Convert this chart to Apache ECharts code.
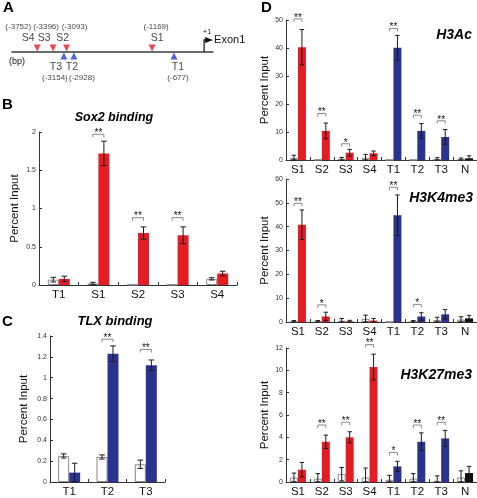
<!DOCTYPE html>
<html><head><meta charset="utf-8">
<script src="https://cdn.jsdelivr.net/npm/echarts/dist/echarts.min.js"></script>
<style>html,body{margin:0;padding:0;background:#fff;}#c{width:477px;height:498px;}</style>
</head><body><div id="c"></div>
<script>
// ---------- DATA ----------
// Panel A: binding sites (bp upstream of exon 1)
const sox2SiteNames = ['S4', 'S3', 'S2', 'S1'];
const sox2SitePos   = [-3752, -3396, -3093, -1169];
const tlxSiteNames  = ['T3', 'T2', 'T1'];
const tlxSitePos    = [-3154, -2928, -677];
const exonStart     = [0];

// Panel B: Sox2 binding
const soxCats    = ['T1', 'S1', 'S2', 'S3', 'S4'];
const soxCtrl    = [0.07, 0.02, 0.005, 0.005, 0.08];
const soxCtrlErr = [0.03, 0.015, 0, 0, 0.015];
const soxVal     = [0.08, 1.72, 0.68, 0.65, 0.15];
const soxValErr  = [0.035, 0.16, 0.08, 0.11, 0.03];
const soxSig     = ['', '**', '**', '**', ''];
const soxSigY    = [null, 1.97, 0.88, 0.88, null];
const soxTicks   = [0, 0.5, 1, 1.5, 2];

// Panel C: TLX binding
const tlxCats    = ['T1', 'T2', 'T3'];
const tlxCtrl    = [0.25, 0.24, 0.17];
const tlxCtrlErr = [0.02, 0.02, 0.04];
const tlxVal     = [0.09, 1.23, 1.12];
const tlxValErr  = [0.09, 0.075, 0.05];
const tlxSig     = ['', '**', '**'];
const tlxSigY    = [null, 1.37, 1.27];
const tlxTicks   = [0, 0.2, 0.4, 0.6, 0.8, 1, 1.2, 1.4];

// Panel D: histone marks
const dCats = ['S1', 'S2', 'S3', 'S4', 'T1', 'T2', 'T3', 'N'];

const h3acCtrl    = [0.7, 0.1, 0.4, 0.8, 0.05, 0.1, 0.3, 0.2];
const h3acCtrlErr = [1.0, 0, 0.5, 1.2, 0, 0, 0.5, 0.5];
const h3acVal     = [40.3, 10.4, 2.6, 2.4, 40.1, 10.4, 8.2, 0.6];
const h3acValErr  = [6.3, 2.8, 1.2, 0.8, 4.4, 2.6, 2.7, 0.9];
const h3acSig     = ['**', '**', '*', '', '**', '**', '**', ''];
const h3acSigY    = [50.4, 16.6, 5.8, null, 47, 16, 14, null];
const h3acTicks   = [0, 10, 20, 30, 40, 50];

const k4Ctrl    = [0.3, 0.3, 0.5, 1.3, 0.05, 0.3, 0.8, 1.0];
const k4CtrlErr = [0.3, 0.3, 1.0, 1.6, 0, 0.3, 1.2, 1.2];
const k4Val     = [40.8, 2.3, 0.3, 0.6, 44.8, 2.3, 3.2, 1.5];
const k4ValErr  = [6.2, 1.8, 0.4, 0.9, 8.5, 1.6, 2.0, 1.3];
const k4Sig     = ['**', '*', '', '', '**', '*', '', ''];
const k4SigY    = [49.8, 7.2, null, null, 56.5, 7.4, null, null];
const k4Ticks   = [0, 10, 20, 30, 40, 50, 60];

const k27Ctrl    = [0.4, 0.3, 0.7, 0.4, 0.2, 0.3, 0.1, 0.4];
const k27CtrlErr = [0.4, 0.45, 0.6, 0.85, 0.4, 0.45, 0.45, 0.6];
const k27Val     = [1.1, 3.6, 4.0, 10.3, 1.4, 3.6, 3.9, 0.8];
const k27ValErr  = [0.65, 0.6, 0.5, 1.15, 0.45, 0.8, 0.72, 0.6];
const k27Sig     = ['', '**', '**', '**', '*', '**', '**', ''];
const k27SigY    = [null, 5.1, 5.35, 12.3, 2.65, 5.1, 5.35, null];
const k27Ticks   = [0, 2, 4, 6, 8, 10, 12];

// ---------- STYLE ----------
const FONT = "'Liberation Sans', Arial, sans-serif";
const RED = '#e41d24', BLUE = '#2b3391', BLACK = '#0d0d0d';
const AXIS = '#333';
// label nudges in px for schematic labels: [nameDx, bpDx]
const sNudge = { S4: [-9, -19], S3: [-9, -7], S2: [-4, 8], S1: [5, 4] };
const tNudge = { T3: [-8, -9], T2: [-2, 8], T1: [4, 4] };

const panels = [
  { cats: soxCats, ctrl: soxCtrl, ctrlErr: soxCtrlErr, val: soxVal, valErr: soxValErr, sig: soxSig, sigY: soxSigY, ticks: soxTicks,
    grid: { left: 39, top: 132, width: 198, height: 153 }, bw: 11, color: () => RED, nameGap: 18 },
  { cats: tlxCats, ctrl: tlxCtrl, ctrlErr: tlxCtrlErr, val: tlxVal, valErr: tlxValErr, sig: tlxSig, sigY: tlxSigY, ticks: tlxTicks,
    grid: { left: 50, top: 336, width: 115, height: 148 }, bw: 11, color: () => BLUE, nameGap: 20 },
  { cats: dCats, ctrl: h3acCtrl, ctrlErr: h3acCtrlErr, val: h3acVal, valErr: h3acValErr, sig: h3acSig, sigY: h3acSigY, ticks: h3acTicks,
    grid: { left: 286, top: 20, width: 194, height: 140 }, bw: 8, color: dColor, nameGap: 13 },
  { cats: dCats, ctrl: k4Ctrl, ctrlErr: k4CtrlErr, val: k4Val, valErr: k4ValErr, sig: k4Sig, sigY: k4SigY, ticks: k4Ticks,
    grid: { left: 286, top: 179, width: 194, height: 143 }, bw: 8, color: dColor, nameGap: 13 },
  { cats: dCats, ctrl: k27Ctrl, ctrlErr: k27CtrlErr, val: k27Val, valErr: k27ValErr, sig: k27Sig, sigY: k27SigY, ticks: k27Ticks,
    grid: { left: 286, top: 348, width: 194, height: 136 }, bw: 8, color: dColor, nameGap: 13 }
];
function dColor(cat) { return cat[0] === 'S' ? RED : (cat[0] === 'T' ? BLUE : BLACK); }

// ---------- BUILD ----------
const grids = [], xAxes = [], yAxes = [], series = [];

// Panel A (index 0)
grids.push({ left: 12, top: 42, width: 201, height: 20 });
xAxes.push({ type: 'value', gridIndex: 0, min: -4320, max: 200, axisLine: { onZero: true, lineStyle: { color: '#3a3a3a', width: 1.5 } },
  axisTick: { show: false }, axisLabel: { show: false }, splitLine: { show: false } });
yAxes.push({ type: 'value', gridIndex: 0, min: -1, max: 1, show: false });
series.push({ type: 'scatter', xAxisIndex: 0, yAxisIndex: 0, symbol: 'triangle', symbolRotate: 180, symbolSize: [7, 7],
  symbolOffset: [0, -4], itemStyle: { color: RED }, data: sox2SitePos.map(p => [p, 0]), z: 5 });
series.push({ type: 'scatter', xAxisIndex: 0, yAxisIndex: 0, symbol: 'triangle', symbolSize: [7, 7],
  symbolOffset: [0, 4], itemStyle: { color: '#2140d8' }, data: tlxSitePos.map(p => [p, 0]), z: 5 });
function labelSeries(names, pos, nudge, which, dy, size) {
  return { type: 'scatter', xAxisIndex: 0, yAxisIndex: 0, symbolSize: 1, itemStyle: { color: 'rgba(0,0,0,0)' }, silent: true,
    data: names.map((n, i) => ({ value: [pos[i], 0], name: n,
      label: { offset: [nudge[n][which], dy] } })),
    label: { show: true, position: 'inside', fontFamily: FONT, fontSize: size, color: '#111',
      formatter: p => which === 0 ? p.name : '(' + p.value[0] + ')' } };
}
series.push(labelSeries(sox2SiteNames, sox2SitePos, sNudge, 0, -14, 10.5));
series.push(labelSeries(sox2SiteNames, sox2SitePos, sNudge, 1, -25, 8));
series.push(labelSeries(tlxSiteNames, tlxSitePos, tNudge, 0, 15, 10.5));
series.push(labelSeries(tlxSiteNames, tlxSitePos, tNudge, 1, 26, 8));
series.push({ type: 'custom', xAxisIndex: 0, yAxisIndex: 0, data: exonStart.map(p => [p, 0]), z: 6,
  renderItem: (params, api) => {
    const c = api.coord([api.value(0), 0]);
    const x = c[0], y = c[1] - 12;
    return { type: 'group', children: [
      { type: 'polyline', shape: { points: [[x, c[1]], [x, y], [x + 2, y]] }, style: { stroke: '#222', lineWidth: 1.3, fill: null } },
      { type: 'polygon', shape: { points: [[x + 1, y - 3], [x + 9, y], [x + 1, y + 3]] }, style: { fill: '#111' } },
      { type: 'text', style: { text: '+1', x: x + 3, y: c[1] - 20, fontFamily: FONT, fontSize: 7, fill: '#111', align: 'center', verticalAlign: 'middle' } },
      { type: 'text', style: { text: 'Exon1', x: x + 10, y: y, fontFamily: FONT, fontSize: 11, fill: '#111', align: 'left', verticalAlign: 'middle' } }
    ] };
  } });

function errRender(bw) {
  return (params, api) => {
    const i = api.value(0), v = api.value(1), e = api.value(2), side = api.value(3);
    if (!(e > 0)) return null;
    const cx = api.coord([i, 0])[0] + side * bw / 2;
    const yt = api.coord([i, v + e])[1];
    const yb = api.coord([i, Math.max(0, v - e)])[1];
    const cap = bw <= 8 ? 2.2 : 2.8;
    const st = { stroke: '#1a1a1a', lineWidth: 1 };
    return { type: 'group', children: [
      { type: 'line', shape: { x1: cx, y1: yt, x2: cx, y2: yb }, style: st },
      { type: 'line', shape: { x1: cx - cap, y1: yt, x2: cx + cap, y2: yt }, style: st },
      { type: 'line', shape: { x1: cx - cap, y1: yb, x2: cx + cap, y2: yb }, style: st }
    ] };
  };
}

panels.forEach((pn, k) => {
  const gi = k + 1;
  grids.push(pn.grid);
  xAxes.push({ type: 'category', gridIndex: gi, data: pn.cats,
    axisLine: { lineStyle: { color: AXIS, width: 1 } },
    axisTick: { show: true, inside: true, length: 3, lineStyle: { color: AXIS } },
    axisLabel: { fontFamily: FONT, fontSize: 11.5, color: '#111', margin: 4 } });
  const t = pn.ticks;
  yAxes.push({ type: 'value', gridIndex: gi, min: t[0], max: t[t.length - 1], interval: t[1] - t[0],
    name: 'Percent Input', nameLocation: 'middle', nameGap: pn.nameGap,
    nameTextStyle: { fontFamily: FONT, fontSize: 11.5, color: '#111' },
    axisLine: { show: true, lineStyle: { color: AXIS, width: 1 } },
    axisTick: { show: true, inside: true, length: 3, lineStyle: { color: AXIS } },
    splitLine: { show: false },
    axisLabel: { fontFamily: FONT, fontSize: 7, color: '#333', margin: 3 } });
  series.push({ type: 'bar', xAxisIndex: gi, yAxisIndex: gi, data: pn.ctrl, barWidth: pn.bw, barGap: '0%',
    itemStyle: { color: '#fff', borderColor: '#8a8a8a', borderWidth: 1 } });
  series.push({ type: 'bar', xAxisIndex: gi, yAxisIndex: gi, data: pn.val.map((v, i) => ({ value: v, itemStyle: { color: pn.color(pn.cats[i]) } })),
    barWidth: pn.bw, barGap: '0%' });
  const errData = pn.ctrl.map((v, i) => [i, v, pn.ctrlErr[i], -1]).concat(pn.val.map((v, i) => [i, v, pn.valErr[i], 1]));
  series.push({ type: 'custom', xAxisIndex: gi, yAxisIndex: gi, data: errData, renderItem: errRender(pn.bw), z: 4, silent: true });
  const sigIdx = pn.sig.map((s, i) => s ? i : -1).filter(i => i >= 0);
  series.push({ type: 'custom', xAxisIndex: gi, yAxisIndex: gi, z: 5, silent: true, clip: false,
    data: sigIdx.map(i => [i, pn.sigY[i]]),
    renderItem: (params, api) => {
      const c = api.coord([api.value(0), api.value(1)]);
      const x1 = c[0] - pn.bw / 2, x2 = c[0] + pn.bw / 2, y = c[1];
      return { type: 'group', children: [
        { type: 'polyline', shape: { points: [[x1, y + 3], [x1, y], [x2, y], [x2, y + 3]] }, style: { stroke: '#888', lineWidth: 1, fill: null } },
        { type: 'text', style: { text: pn.sig[sigIdx[params.dataIndex]], x: c[0], y: y - 1, align: 'center', verticalAlign: 'middle',
          fontFamily: FONT, fontSize: 10, fill: '#111' } }
      ] };
    } });
});

const txt = (text, x, y, size, opts) => Object.assign({ type: 'text', left: x, top: y,
  style: { text: text, fontFamily: FONT, fontSize: size, fill: '#000', fontWeight: 'bold' } }, opts || {});
const graphic = [
  txt('A', 3, 0, 15), txt('B', 2, 97, 15), txt('C', 2, 314, 15), txt('D', 261, 0, 15),
  { type: 'text', x: 114, y: 118, style: { text: 'Sox2 binding', fontFamily: FONT, fontSize: 12.5, fontWeight: 'bold', fontStyle: 'italic', fill: '#000', align: 'center', verticalAlign: 'middle' } },
  { type: 'text', x: 115, y: 321, style: { text: 'TLX binding', fontFamily: FONT, fontSize: 13, fontWeight: 'bold', fontStyle: 'italic', fill: '#000', align: 'center', verticalAlign: 'middle' } },
  { type: 'text', x: 472, y: 35, style: { text: 'H3Ac', fontFamily: FONT, fontSize: 14, fontWeight: 'bold', fontStyle: 'italic', fill: '#000', align: 'right', verticalAlign: 'middle' } },
  { type: 'text', x: 473, y: 198, style: { text: 'H3K4me3', fontFamily: FONT, fontSize: 14, fontWeight: 'bold', fontStyle: 'italic', fill: '#000', align: 'right', verticalAlign: 'middle' } },
  { type: 'text', x: 472, y: 375, style: { text: 'H3K27me3', fontFamily: FONT, fontSize: 14, fontWeight: 'bold', fontStyle: 'italic', fill: '#000', align: 'right', verticalAlign: 'middle' } },
  { type: 'text', x: 9, y: 62, style: { text: '(bp)', fontFamily: FONT, fontSize: 9, fill: '#111', align: 'left', verticalAlign: 'middle' } }
];

const chart = echarts.init(document.getElementById('c'), null, { renderer: 'canvas', width: 477, height: 498 });
chart.setOption({ backgroundColor: '#fff', animation: false, grid: grids, xAxis: xAxes, yAxis: yAxes, series: series, graphic: graphic });
</script></body></html>
